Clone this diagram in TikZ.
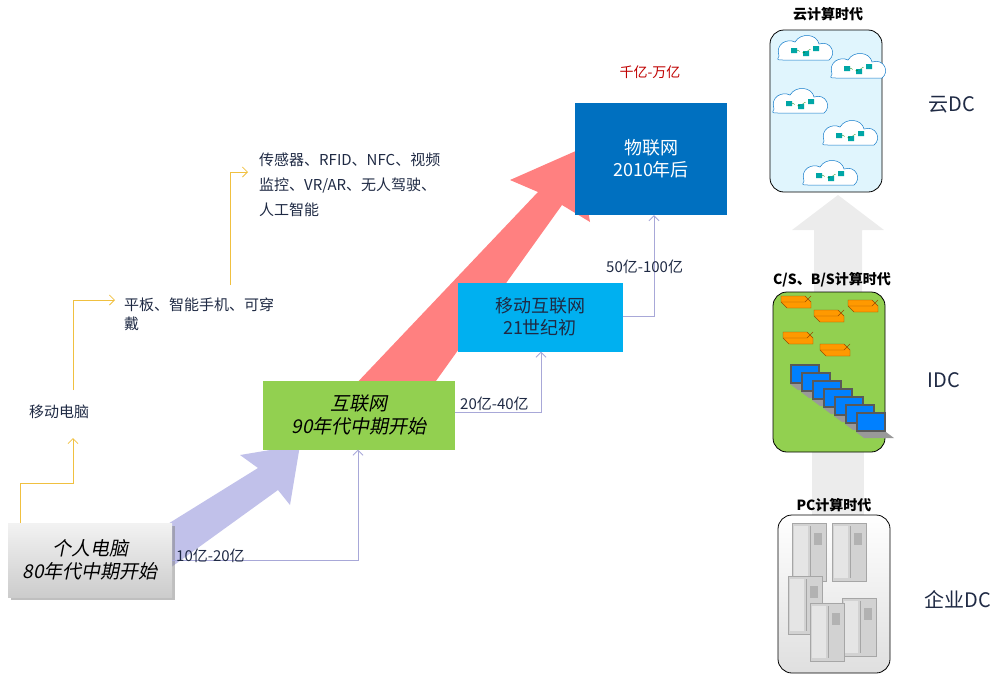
\documentclass[tikz,border=0pt]{standalone}
\usepackage{fontspec}
\setmainfont{Liberation Sans}
\newfontfamily\cjk{Noto Sans CJK SC}
\newfontfamily\cjkit[FakeSlant=0.2]{Noto Sans CJK SC}
\usetikzlibrary{shapes.geometric,arrows.meta,shadows}
\definecolor{lav}{HTML}{A8A8D8}
\definecolor{ylw}{HTML}{F0C040}
\definecolor{grn}{HTML}{92D050}
\definecolor{lblue}{HTML}{00B0F0}
\definecolor{dblue}{HTML}{0070C0}
\definecolor{txt}{HTML}{1F2A44}
\tikzset{
 era/.style={draw=none,minimum height=#1,inner sep=2pt,align=center,font=\cjk\fontsize{18}{22}\selectfont},
 conn/.style={draw=lav,line width=0.8pt,-{Straight Barb[length=5pt]}},
 yconn/.style={draw=ylw,line width=0.8pt,-{Straight Barb[length=5pt]}},
 lbl/.style={font=\cjk\fontsize{15}{19}\selectfont,text=txt,anchor=west,inner sep=1pt},
 rbox/.style={rounded corners=14pt,draw=black,line width=0.8pt},
 ttl/.style={font=\cjk\bfseries\fontsize{14}{16}\selectfont},
 dc/.style={font=\cjk\fontsize{20}{22}\selectfont,text=txt},
}
\begin{document}
\begin{tikzpicture}[x=1pt,y=-1pt]
\useasboundingbox (0,0) rectangle (1003,681);
% right side grey arrows
\fill[gray!15] (812,450) rectangle (864,518);
\fill[gray!15] (838,195) -- (884,230) -- (862,230) -- (862,292) -- (814,292) -- (814,230) -- (792,230) -- cycle;
% big arrows
\fill[lav!90!blue!60] (150,535) -- (170,568) -- (278,490) -- (290,505) -- (300,445) -- (240,455) -- (258,468) -- cycle;
\fill[red!50!white] (352,388) -- (408,420) -- (562,205) -- (590,222) -- (578,150) -- (510,180) -- (538,192) -- cycle;
% era boxes
\node[era=74pt,minimum width=164pt,top color=gray!10,bottom color=gray!40,drop shadow,font=\cjkit\fontsize{19}{23}\selectfont] (pc) at (90,560) {个人电脑\\80年代中期开始};
\node[era=69pt,minimum width=192pt,fill=grn,font=\cjkit\fontsize{19}{23}\selectfont] (net) at (359,415) {互联网\\90年代中期开始};
\node[era=69pt,minimum width=165pt,fill=lblue,text=txt] (mob) at (540,317) {移动互联网\\21世纪初};
\node[era=112pt,minimum width=152pt,fill=dblue,text=white] (iot) at (651,159) {物联网\\2010年后};
\node[font=\cjk\fontsize{14}{16}\selectfont,text=red!75!black] (ww) at (650,72) {千亿-万亿};
% connectors
\coordinate (c1) at (358,560);
\draw[conn] (pc.east|-c1) -- (c1) -- (c1|-net.south);
\node[lbl] (l1) at (175,556) {10亿-20亿};
\coordinate (c2) at (541,412);
\draw[conn] (net.east|-c2) -- (c2) -- (c2|-mob.south);
\node[lbl] (l2) at (459,404) {20亿-40亿};
\coordinate (c3) at (654,316);
\draw[conn] (mob.east|-c3) -- (c3) -- (c3|-iot.south);
\node[lbl] (l3) at (605,267) {50亿-100亿};
% yellow
\node[lbl] (m1) at (28,412) {移动电脑};
\node[lbl,align=left] (m2) at (123,314) {平板、智能手机、可穿\\戴};
\node[lbl,align=left,font=\cjk\fontsize{15}{25}\selectfont] (m3) at (258,185) {传感器、RFID、NFC、视频\\监控、VR/AR、无人驾驶、\\人工智能};
\coordinate (y1) at (20,483); \coordinate (y2) at (73,483);
\draw[yconn] (20,523) -- (y1) -- (y2) -- (73,438);
\coordinate (y3) at (73,300);
\draw[yconn] (73,390) -- (y3) -- (115,300);
\coordinate (y4) at (230,172);
\draw[yconn] (230,285) -- (y4) -- (248,172);
% right boxes
\draw[rbox,fill=cyan!12] (770,30) rectangle (882,192);
\draw[rbox,fill=grn] (773,292) rectangle (885,452);
\draw[rbox,top color=white,bottom color=gray!25] (778,515) rectangle (890,673);
\node[ttl] (t1) at (828,14) {云计算时代};
\node[ttl] (t2) at (832,280) {C/S、B/S计算时代};
\node[ttl] (t3) at (834,505) {PC计算时代};
\node[dc] (d1) at (952,105) {云DC};
\node[dc] (d2) at (944,380) {IDC};
\node[dc] (d3) at (958,600) {企业DC};
% clouds
\foreach \x/\y in {805/50, 858/68, 800/103, 850/135, 830/175}{
 \fill[white,draw=cyan!60!blue,line width=0.5pt] (\x-26,\y+6) .. controls (\x-30,\y-6) and (\x-18,\y-12) .. (\x-10,\y-8) .. controls (\x-4,\y-18) and (\x+12,\y-16) .. (\x+14,\y-6) .. controls (\x+26,\y-10) and (\x+32,\y+4) .. (\x+24,\y+10) -- (\x-22,\y+10) .. controls (\x-28,\y+10) .. (\x-26,\y+6) -- cycle;
 \fill[teal!70!cyan] (\x-14,\y-2) rectangle ++(6,5) (\x-2,\y+1) rectangle ++(6,5) (\x+8,\y-4) rectangle ++(6,5);
 \draw[green!50!black,dashed] (\x-8,\y) -- (\x-2,\y+3) -- (\x+8,\y-2);
}
% servers (yellow)
\foreach \x/\y in {795/300, 828/314, 862/304, 797/336, 834/348}{
 \fill[orange!80!yellow,draw=orange!60!black] (\x-14,\y-4) -- (\x+10,\y-4) -- (\x+16,\y+2) -- (\x+16,\y+8) -- (\x-8,\y+8) -- (\x-14,\y+2) -- cycle;
 \draw[orange!60!black] (\x-14,\y+2) -- (\x+10,\y+2) -- (\x+16,\y-4);
}
% laptops
\foreach \i in {0,...,6}{
 \pgfmathsetmacro\xx{798+\i*11} \pgfmathsetmacro\yy{372+\i*8}
 \fill[gray!70!black] (\xx-8,\yy-8) rectangle (\xx+22,\yy+12);
 \fill[blue!50!cyan] (\xx-6,\yy-6) rectangle (\xx+20,\yy+10);
 \fill[gray!80] (\xx-8,\yy+12) -- (\xx+22,\yy+12) -- (\xx+30,\yy+18) -- (\xx,\yy+18) -- cycle;
}
% server cabinets
\foreach \x/\y in {792/523, 832/523, 788/576, 842/598, 810/603}{
 \fill[gray!35,draw=gray!70] (\x,\y) rectangle ++(34,58);
 \fill[gray!20] (\x+2,\y+3) rectangle ++(14,52);
 \draw[gray!70] (\x+18,\y+3) -- ++(0,52);
 \fill[gray!60] (\x+22,\y+10) rectangle ++(8,12);
}
\end{tikzpicture}
\end{document}
